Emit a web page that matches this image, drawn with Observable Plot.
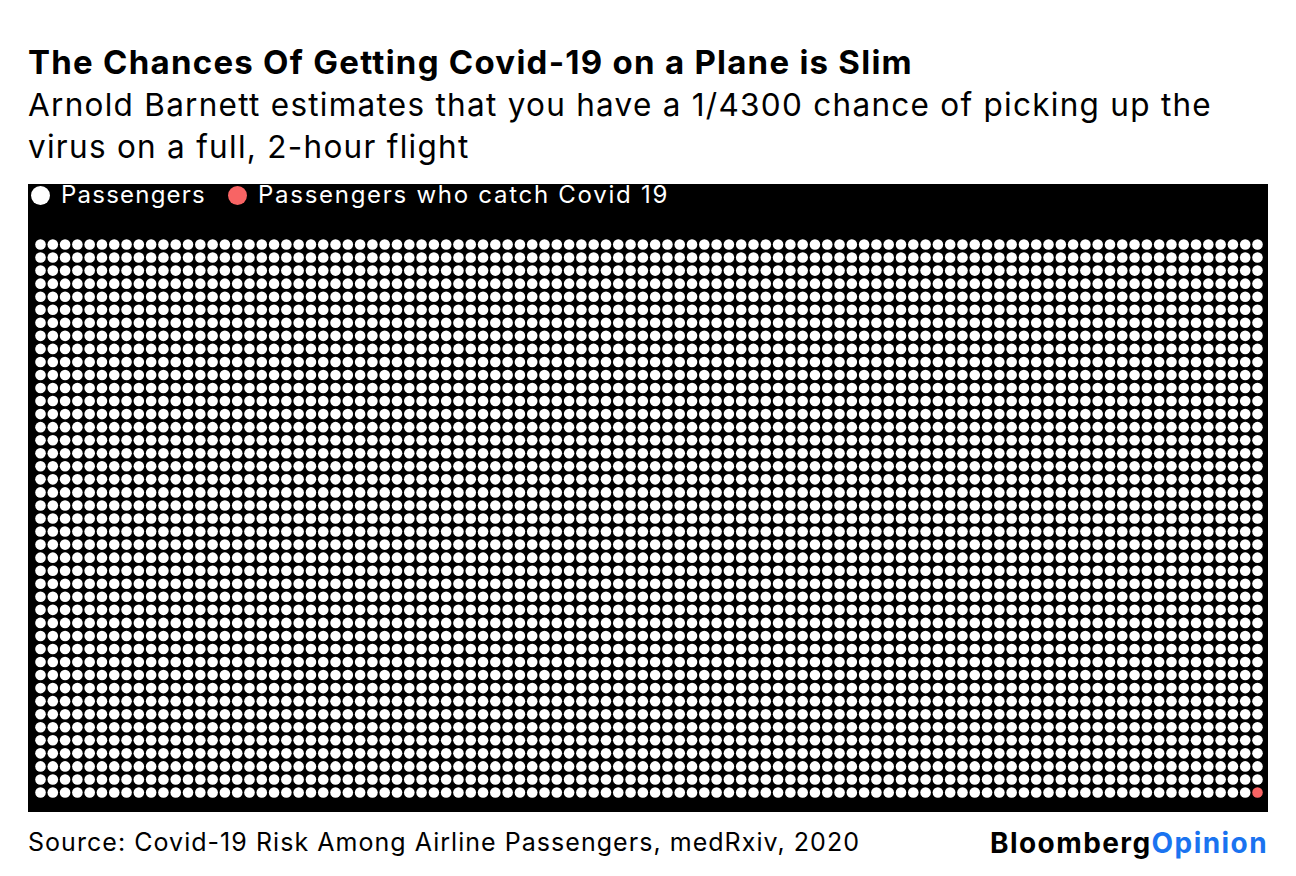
<!DOCTYPE html>
<html><head><meta charset="utf-8">
<script src="https://cdn.jsdelivr.net/npm/d3@7"></script>
<script src="https://cdn.jsdelivr.net/npm/@observablehq/plot@0.6"></script>
<style>
body{margin:0;background:#fff;font-family:Inter,"Liberation Sans",Arial,sans-serif;}
#wrap{position:relative;width:1296px;height:876px;overflow:hidden;}
.t{white-space:nowrap;display:inline-block;}
#title{position:absolute;left:28px;top:46px;font-size:33px;line-height:33px;font-weight:bold;color:#000;}
#sub{position:absolute;left:28px;top:84px;font-size:31.5px;line-height:42px;color:#000;}
#sub .t{display:block;width:max-content;}
#panel{position:absolute;left:28px;top:184px;width:1240px;height:628px;background:#000;}
#legend{position:absolute;left:3px;top:-1px;height:24px;display:flex;align-items:flex-start;color:#fff;font-size:24px;line-height:24px;white-space:nowrap;}
#legend .sw{display:inline-block;width:19px;height:19px;border-radius:50%;margin-right:11px;margin-top:2.5px;}
#legend .item{display:flex;align-items:flex-start;margin-right:22px;}
#chart{position:absolute;left:0;top:46px;}
#source{position:absolute;left:28px;top:830px;font-size:25px;line-height:25px;color:#000;}
#logo{position:absolute;left:990px;top:829px;font-size:28px;line-height:28px;font-weight:bold;}
#logo .op{color:#1a73f0;}
</style></head><body>
<div id="wrap">
<div id="title" class="t">The Chances Of Getting Covid-19 on a Plane is Slim</div>
<div id="sub"><span class="t" id="sub1">Arnold Barnett estimates that you have a 1/4300 chance of picking up the</span><span class="t" id="sub2">virus on a full, 2-hour flight</span></div>
<div id="panel"><div id="legend"></div><div id="chart"></div></div>
<div id="source" class="t">Source: Covid-19 Risk Among Airline Passengers, medRxiv, 2020</div>
<div id="logo" class="t"><span>Bloomberg</span><span class="op">Opinion</span></div>
</div>
<script>
const categories = ["Passengers", "Passengers who catch Covid 19"];
const counts = [4299, 1];
const colors = ["#ffffff", "#f86464"];
const columns = 100;

const cells = [];
categories.forEach((c, i) => { for (let k = 0; k < counts[i]; k++) cells.push({category: c}); });
cells.forEach((d, i) => { d.col = i % columns; d.row = Math.floor(i / columns); });
const rows = Math.ceil(cells.length / columns);

const legend = document.getElementById("legend");
categories.forEach((c, i) => {
  const it = document.createElement("span"); it.className = "item";
  const sw = document.createElement("span"); sw.className = "sw"; sw.style.background = colors[i];
  const tx = document.createElement("span"); tx.className = "t lg"; tx.textContent = c;
  it.appendChild(sw); it.appendChild(tx);
  legend.appendChild(it);
});

const plot = Plot.plot({
  width: 1240, height: 582,
  marginLeft: 12, marginRight: 11, marginTop: 14, marginBottom: 20,
  style: {background: "#000"},
  x: {domain: [0, columns - 1], axis: null},
  y: {domain: [0, rows - 1], axis: null, reverse: true},
  color: {domain: categories, range: colors},
  marks: [Plot.dot(cells, {x: "col", y: "row", r: 5.3, fill: "category", stroke: null})]
});
document.getElementById("chart").appendChild(plot);

// fit text widths to the reference layout
function fit(el, target, others) {
  el.style.letterSpacing = "0px";
  const w = el.getBoundingClientRect().width;
  const n = el.textContent.length;
  const ls = (target - w) / n;
  el.style.letterSpacing = ls + "px";
  (others || []).forEach(o => o.style.letterSpacing = ls + "px");
}
function doFit() {
  fit(document.getElementById("title"), 885);
  fit(document.getElementById("sub1"), 1184, [document.getElementById("sub2")]);
  const lg = document.querySelectorAll(".lg");
  fit(lg[0], 145); fit(lg[1], 411);
  fit(document.getElementById("source"), 832);
  fit(document.getElementById("logo"), 278);
}
doFit();
if (document.fonts && document.fonts.ready) document.fonts.ready.then(doFit);
</script>
</body></html>
